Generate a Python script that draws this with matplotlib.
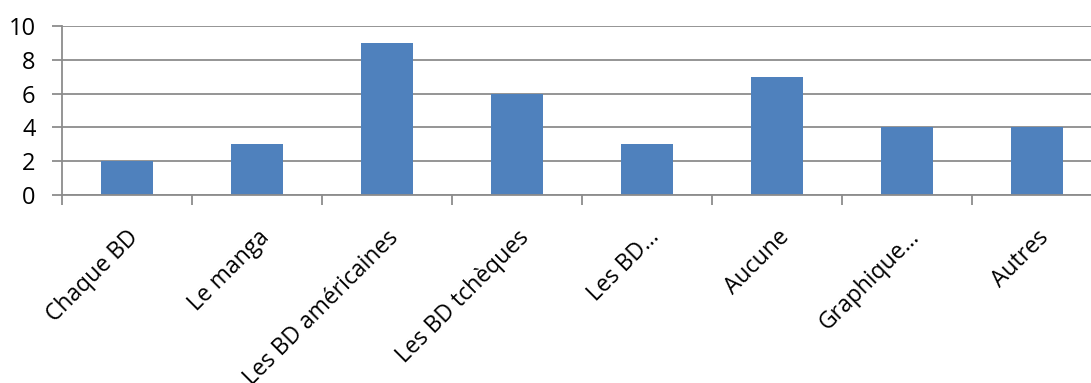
import matplotlib
matplotlib.use("Agg")
import matplotlib.pyplot as plt
import numpy as np

categories = ["Chaque BD", "Le manga", "Les BD américaines", "Les BD tchèques",
              "Les BD…", "Aucune", "Graphique…", "Autres"]
values = [2, 3, 9, 6, 3, 7, 4, 4]
yticks = [0, 2, 4, 6, 8, 10]

plt.rcParams['font.family'] = ['Open Sans', 'DejaVu Sans']

W, H = 1091, 383
fig = plt.figure(figsize=(W / 100, H / 100), dpi=100)
left, right, top, bottom = 62, 1102, 26, 195
ax = fig.add_axes([left / W, 1 - bottom / H, (right - left) / W, (bottom - top) / H])

x = np.arange(len(categories))
ax.bar(x, values, width=0.4, color="#4F81BD", zorder=3)
ax.set_xlim(-0.5, len(categories) - 0.5)
ax.set_ylim(0, 10)
ax.set_yticks(yticks)
ax.set_yticklabels([str(t) for t in yticks], fontsize=17)
ax.yaxis.grid(True, color="#8C8C8C", linewidth=1.3, zorder=0)

ax.set_xticks(np.arange(len(categories) + 1) - 0.5, minor=False)
ax.set_xticklabels([])
ax.set_xticks(x, minor=True)
ax.set_xticklabels(categories, minor=True, rotation=45, ha='right',
                   rotation_mode='anchor', fontsize=16.5)
ax.tick_params(axis='x', which='minor', length=0, pad=22)
ax.tick_params(axis='x', which='major', length=7, width=1.3, color="#8C8C8C")
ax.tick_params(axis='y', length=7, width=1.3, color="#8C8C8C", pad=12)

for s in ["top", "right"]:
    ax.spines[s].set_visible(False)
for s in ["left", "bottom"]:
    ax.spines[s].set_color("#8C8C8C")
    ax.spines[s].set_linewidth(1.3)
ax.spines["left"].set_zorder(4)
ax.spines["bottom"].set_zorder(4)

fig.savefig("out.png", dpi=100)
